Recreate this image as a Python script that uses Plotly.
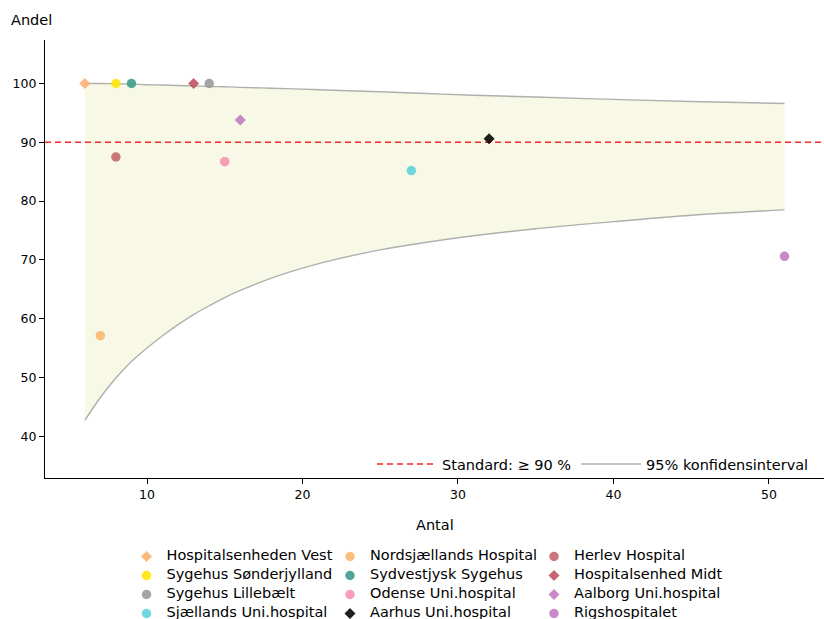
import plotly.graph_objects as go

# Hospitals: number of patients (Antal) and share meeting the indicator (Andel, %)
hospitals = [
    "Hospitalsenheden Vest", "Sygehus Sønderjylland", "Sygehus Lillebælt", "Sjællands Uni.hospital",
    "Nordsjællands Hospital", "Sydvestjysk Sygehus", "Odense Uni.hospital", "Aarhus Uni.hospital",
    "Herlev Hospital", "Hospitalsenhed Midt", "Aalborg Uni.hospital", "Rigshospitalet",
]
antal = [6, 8, 14, 27, 7, 9, 15, 32, 8, 13, 16, 51]
andel = [100.0, 100.0, 100.0, 85.2, 57.1, 100.0, 86.7, 90.6, 87.5, 100.0, 93.8, 70.6]
symbols = ["diamond", "circle", "circle", "circle",
           "circle", "circle", "circle", "diamond",
           "circle", "diamond", "diamond", "circle"]
colors = ["#fbb26e", "#ffe500", "#999999", "#5bd2d9",
          "#f7b76c", "#3a9a8a", "#f78fb3", "#000000",
          "#c2646a", "#c0505e", "#c07ac0", "#c07ac0"]
legend_col = ["legend"] * 4 + ["legend2"] * 4 + ["legend3"] * 4

# 95% confidence funnel
ci_n = [6, 7, 8, 9, 10, 11, 12, 13, 14, 15, 16, 18, 20, 22, 25, 28, 31, 35, 40, 45, 51]
ci_upper = [100.0, 100.0, 99.95, 99.9, 99.8, 99.75, 99.65, 99.6, 99.5, 99.45, 99.35,
            99.2, 99.05, 98.85, 98.6, 98.3, 98.0, 97.7, 97.3, 96.95, 96.6]
ci_lower = [42.7, 46.6, 49.9, 52.7, 55.0, 57.1, 59.0, 60.7, 62.2, 63.6, 64.8,
            66.9, 68.6, 70.0, 71.7, 73.0, 74.1, 75.3, 76.5, 77.6, 78.5]

standard = 90
x_range = [3.44, 53.54]
y_range = [32.9, 107.4]
x_ticks = [10, 20, 30, 40, 50]
y_ticks = [40, 50, 60, 70, 80, 90, 100]

FONT = "DejaVu Sans"
LEG_FS = 14.5
CI_LINE = "rgba(150,150,150,0.75)"

fig = go.Figure()

fig.add_trace(go.Scatter(
    x=ci_n, y=ci_upper, mode="lines", name="95% konfidensinterval",
    line=dict(color=CI_LINE, width=1.4, shape="spline", smoothing=1.0),
    legend="legend4", legendrank=2, hoverinfo="skip",
))
fig.add_trace(go.Scatter(
    x=ci_n, y=ci_lower, mode="lines", showlegend=False,
    line=dict(color=CI_LINE, width=1.4, shape="spline", smoothing=1.0),
    fill="tonexty", fillcolor="#f7f9e6", hoverinfo="skip",
))
fig.add_trace(go.Scatter(
    x=x_range, y=[standard, standard], mode="lines", name="Standard: ≥ 90 %",
    line=dict(color="#f02828", width=1.4, dash="6px,4px"),
    legend="legend4", legendrank=1, hoverinfo="skip",
))

for name, n, p, sym, col, leg in zip(hospitals, antal, andel, symbols, colors, legend_col):
    fig.add_trace(go.Scatter(
        x=[n], y=[p], mode="markers",
        name=f'<span style="font-size:{LEG_FS}px">{name}</span>',
        marker=dict(symbol=sym, color=col, size=8.5 if sym == "diamond" else 9.5,
                    opacity=0.88, line=dict(width=0)),
        legend=leg,
    ))

axis_common = dict(
    showline=True, linecolor="black", linewidth=1.25, mirror=False,
    ticks="outside", ticklen=5, tickwidth=1.25, tickcolor="black",
    showgrid=False, zeroline=False, automargin=False,
    tickfont=dict(family=FONT, size=12.5, color="black"),
)
fig.update_xaxes(range=x_range, tickvals=x_ticks, **axis_common)
fig.update_yaxes(range=y_range, tickvals=y_ticks, **axis_common)

W, H = 824, 619
col_legend = dict(
    orientation="v", xref="container", yref="container", xanchor="left", yanchor="top",
    y=1 - 542 / H, bgcolor="rgba(0,0,0,0)", traceorder="normal",
    font=dict(family=FONT, size=10, color="black"),
)
fig.update_layout(
    width=W, height=H,
    margin=dict(l=45, r=0, t=40, b=141, autoexpand=False),
    paper_bgcolor="white", plot_bgcolor="white",
    font=dict(family=FONT, color="black"),
    legend=dict(x=126.5 / W, **col_legend),
    legend2=dict(x=330 / W, **col_legend),
    legend3=dict(x=534 / W, **col_legend),
    legend4=dict(
        orientation="h", xref="container", yref="container", xanchor="right", yanchor="top",
        x=814 / W, y=1 - 448 / H, bgcolor="rgba(0,0,0,0)", itemwidth=60,
        font=dict(family=FONT, size=LEG_FS, color="black"),
    ),
    annotations=[
        dict(text="Andel", xref="paper", yref="paper", x=-36 / 779, y=1 + 20 / 438,
             xanchor="left", yanchor="middle", showarrow=False,
             font=dict(family=FONT, size=LEG_FS, color="black")),
        dict(text="Antal", xref="paper", yref="paper", x=0.5, y=-47 / 438,
             xanchor="center", yanchor="middle", showarrow=False,
             font=dict(family=FONT, size=LEG_FS, color="black")),
    ],
)

fig.write_html("out.html")
